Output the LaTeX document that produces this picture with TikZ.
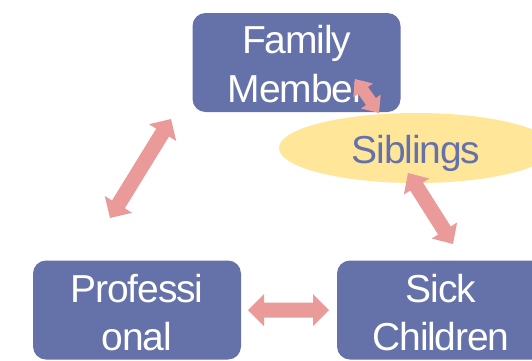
\documentclass[tikz,border=0pt]{standalone}
\usepackage{fontspec}
\setmainfont{Liberation Sans}[LetterSpace=-3]
\usetikzlibrary{calc,shapes.geometric}
\definecolor{boxblue}{HTML}{6571A9}
\definecolor{sibyellow}{HTML}{FFE699}
\definecolor{arrowpink}{HTML}{E99A99}
% #1 tip A, #2 tip B, #3 half shaft, #4 half head, #5 head length
\newcommand\dblblockarrow[5]{%
  \fill[arrowpink] (#1)
    -- ($(#1)!#5!(#2)!#4!90:(#2)$)
    -- ($(#1)!#5!(#2)!#3!90:(#2)$)
    -- ($(#2)!#5!(#1)!#3!-90:(#1)$)
    -- ($(#2)!#5!(#1)!#4!-90:(#1)$)
    -- (#2)
    -- ($(#2)!#5!(#1)!#4!90:(#1)$)
    -- ($(#2)!#5!(#1)!#3!90:(#1)$)
    -- ($(#1)!#5!(#2)!#3!-90:(#2)$)
    -- ($(#1)!#5!(#2)!#4!-90:(#2)$)
    -- cycle;}
\begin{document}
\begin{tikzpicture}[x=1pt,y=-1pt,
  box/.style={fill=boxblue, draw=none, rounded corners=13pt, minimum width=208pt, minimum height=99pt, inner sep=0pt},
  boxtxt/.style={text=white, font=\fontsize{39}{48}\selectfont, inner sep=0pt, anchor=base},
  sibtxt/.style={text=boxblue, font=\fontsize{39}{48}\selectfont, inner sep=0pt, anchor=base},
  sibshape/.style={ellipse, fill=sibyellow, draw=none, minimum width=274pt, minimum height=70pt, inner sep=0pt}]
\useasboundingbox (0,0) rectangle (532,360);
\clip (0,0) rectangle (532,360);
% boxes
\node[box] (fam) at (296.5,62.5) {};
\node[boxtxt] (famA) at (296.5,53) {Family};
\node[boxtxt] (famB) at (296.5,102) {Member};
\node[box] (prof) at (137,310) {};
\node[boxtxt] (profA) at (137,302) {Professi};
\node[boxtxt] (profB) at (137,350) {onal};
\node[box] (sick) at (441,310) {};
\node[boxtxt] (sickA) at (441,302) {Sick};
\node[boxtxt] (sickB) at (441,350) {Children};
% siblings
\node[sibshape] (sib) at (416,148) {};
\node[sibtxt] (sibA) at (416,163) {Siblings};
% arrow ends
\coordinate (a1) at (110,218);
\coordinate (b1) at (171,119);
\coordinate (a2) at (408,173);
\coordinate (b2) at (453,244);
\coordinate (a3) at (248,310);
\coordinate (b3) at (329,310);
\coordinate (a4) at (355,79);
\coordinate (b4) at (379,113);
\dblblockarrow{a1}{b1}{7.5pt}{16pt}{16pt}
\dblblockarrow{a2}{b2}{7.5pt}{15pt}{16pt}
\dblblockarrow{a3}{b3}{7.5pt}{16pt}{16pt}
\dblblockarrow{a4}{b4}{6pt}{12pt}{14pt}
\end{tikzpicture}
\end{document}
